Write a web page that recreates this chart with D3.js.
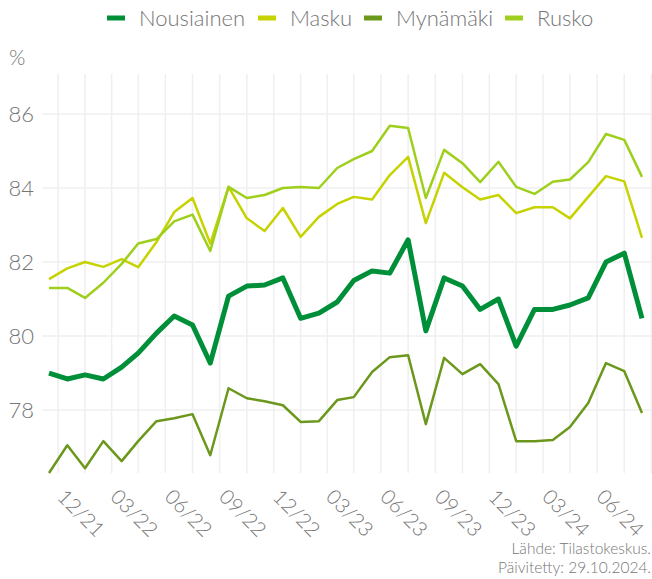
<!DOCTYPE html>
<html>
<head>
<meta charset="utf-8">
<script src="https://cdn.jsdelivr.net/npm/d3@7"></script>
<style>
  body { margin: 0; background: #fff; }
  text { font-family: Lato, "Open Sans", sans-serif; font-weight: 300; fill: #767676; }
</style>
</head>
<body>
<script>
var months = ["2021-10","2021-11","2021-12","2022-01","2022-02","2022-03","2022-04","2022-05","2022-06","2022-07",
  "2022-08","2022-09","2022-10","2022-11","2022-12","2023-01","2023-02","2023-03","2023-04","2023-05",
  "2023-06","2023-07","2023-08","2023-09","2023-10","2023-11","2023-12","2024-01","2024-02","2024-03",
  "2024-04","2024-05","2024-06","2024-07"];

var nousiainen = [79.0,78.84,78.95,78.84,79.16,79.54,80.08,80.54,80.3,79.27,
  81.08,81.35,81.38,81.57,80.48,80.62,80.92,81.5,81.76,81.7,
  82.6,80.14,81.57,81.35,80.72,81.0,79.73,80.72,80.72,80.84,
  81.03,82.0,82.24,80.48];
var masku = [81.54,81.83,82.0,81.87,82.08,81.86,82.54,83.35,83.73,82.5,
  84.03,83.18,82.84,83.46,82.68,83.22,83.57,83.76,83.69,84.35,
  84.84,83.05,84.41,84.02,83.69,83.81,83.32,83.48,83.48,83.18,
  83.76,84.32,84.18,82.65];
var mynamaki = [76.3,77.05,76.43,77.16,76.62,77.16,77.7,77.78,77.89,76.78,
  78.59,78.32,78.24,78.13,77.68,77.7,78.27,78.35,79.03,79.43,
  79.48,77.62,79.41,78.97,79.24,78.7,77.16,77.16,77.19,77.54,
  78.19,79.27,79.05,77.92];
var rusko = [81.3,81.3,81.03,81.44,81.95,82.5,82.62,83.1,83.28,82.3,
  84.03,83.73,83.81,84.0,84.03,84.0,84.54,84.78,85.0,85.68,
  85.62,83.73,85.03,84.67,84.16,84.71,84.03,83.84,84.17,84.23,
  84.7,85.46,85.3,84.3];

var seriesNames = ["Nousiainen", "Masku", "Mynämäki", "Rusko"];
var seriesColors = ["#008f39", "#c6d300", "#6b981c", "#9fcf1d"];
var seriesWidths = [5, 2.5, 2.5, 2.5];
var yTicks = [78, 80, 82, 84, 86];

var width = 652, height = 579;
var panel = { left: 42, right: 652, top: 74, bottom: 473 };

var parse = d3.timeParse("%Y-%m");
var dates = months.map(parse);
var series = [nousiainen, masku, mynamaki, rusko];

var svg = d3.select("body").append("svg")
  .attr("width", width)
  .attr("height", height);

var x = d3.scaleTime()
  .domain(d3.extent(dates))
  .range([49, 642]);
var y = d3.scaleLinear()
  .domain([76.3, 87.08])
  .range([panel.bottom, panel.top]);

// major ticks every 3 months from 12/21, minor lines halfway between
var majors = dates.filter(function (d) { return (d.getMonth() + 1) % 3 === 0; });
var minors = [];
var prev = d3.timeMonth.offset(majors[0], -3);
majors.concat([d3.timeMonth.offset(majors[majors.length - 1], 3)]).forEach(function (d) {
  minors.push(new Date((prev.getTime() + d.getTime()) / 2));
  prev = d;
});

var grid = svg.append("g").attr("class", "grid");
grid.selectAll("line.v")
  .data(majors.concat(minors).filter(function (d) { return x(d) >= panel.left && x(d) <= panel.right; }))
  .enter().append("line")
  .attr("x1", function (d) { return x(d); })
  .attr("x2", function (d) { return x(d); })
  .attr("y1", panel.top)
  .attr("y2", panel.bottom)
  .attr("stroke", "#efefef")
  .attr("stroke-width", 1.5);
grid.selectAll("line.h")
  .data(yTicks)
  .enter().append("line")
  .attr("x1", panel.left)
  .attr("x2", panel.right)
  .attr("y1", function (d) { return y(d); })
  .attr("y2", function (d) { return y(d); })
  .attr("stroke", "#efefef")
  .attr("stroke-width", 1.5);

// y labels
svg.append("g").selectAll("text")
  .data(yTicks)
  .enter().append("text")
  .attr("x", 34)
  .attr("y", function (d) { return y(d); })
  .attr("dy", "0.35em")
  .attr("text-anchor", "end")
  .style("font-size", "22px")
  .text(function (d) { return d; });

svg.append("text")
  .attr("x", 9)
  .attr("y", 65)
  .style("font-size", "21px")
  .text("%");

// x labels
var fmt = d3.timeFormat("%m/%y");
svg.append("g").selectAll("text")
  .data(majors)
  .enter().append("text")
  .attr("transform", function (d) { return "translate(" + (x(d) - 4) + "," + (panel.bottom + 40) + ") rotate(45)"; })
  .attr("text-anchor", "middle")
  .attr("dy", "0.35em")
  .style("font-size", "20.5px")
  .text(function (d) { return fmt(d); });

// lines
var line = d3.line()
  .x(function (d, i) { return x(dates[i]); })
  .y(function (d) { return y(d); });

svg.append("g").selectAll("path")
  .data(series)
  .enter().append("path")
  .attr("d", line)
  .attr("fill", "none")
  .attr("stroke", function (d, i) { return seriesColors[i]; })
  .attr("stroke-width", function (d, i) { return seriesWidths[i]; })
  .attr("stroke-linejoin", "round");

// legend
var legendX = [107, 258, 364, 505];
var legend = svg.append("g").selectAll("g")
  .data(seriesNames)
  .enter().append("g")
  .attr("transform", function (d, i) { return "translate(" + legendX[i] + ",18)"; });
legend.append("rect")
  .attr("x", 0)
  .attr("y", -2.5)
  .attr("width", 18)
  .attr("height", 5)
  .attr("fill", function (d, i) { return seriesColors[i]; });
legend.append("text")
  .attr("x", 32)
  .attr("y", 0)
  .attr("dy", "0.35em")
  .style("font-size", "22px")
  .text(function (d) { return d; });

// source
svg.append("text")
  .attr("x", 651)
  .attr("y", 554)
  .attr("text-anchor", "end")
  .style("font-size", "15.5px")
  .text("Lähde: Tilastokeskus.");
svg.append("text")
  .attr("x", 651)
  .attr("y", 573)
  .attr("text-anchor", "end")
  .style("font-size", "15.5px")
  .text("Päivitetty: 29.10.2024.");
</script>
</body>
</html>
